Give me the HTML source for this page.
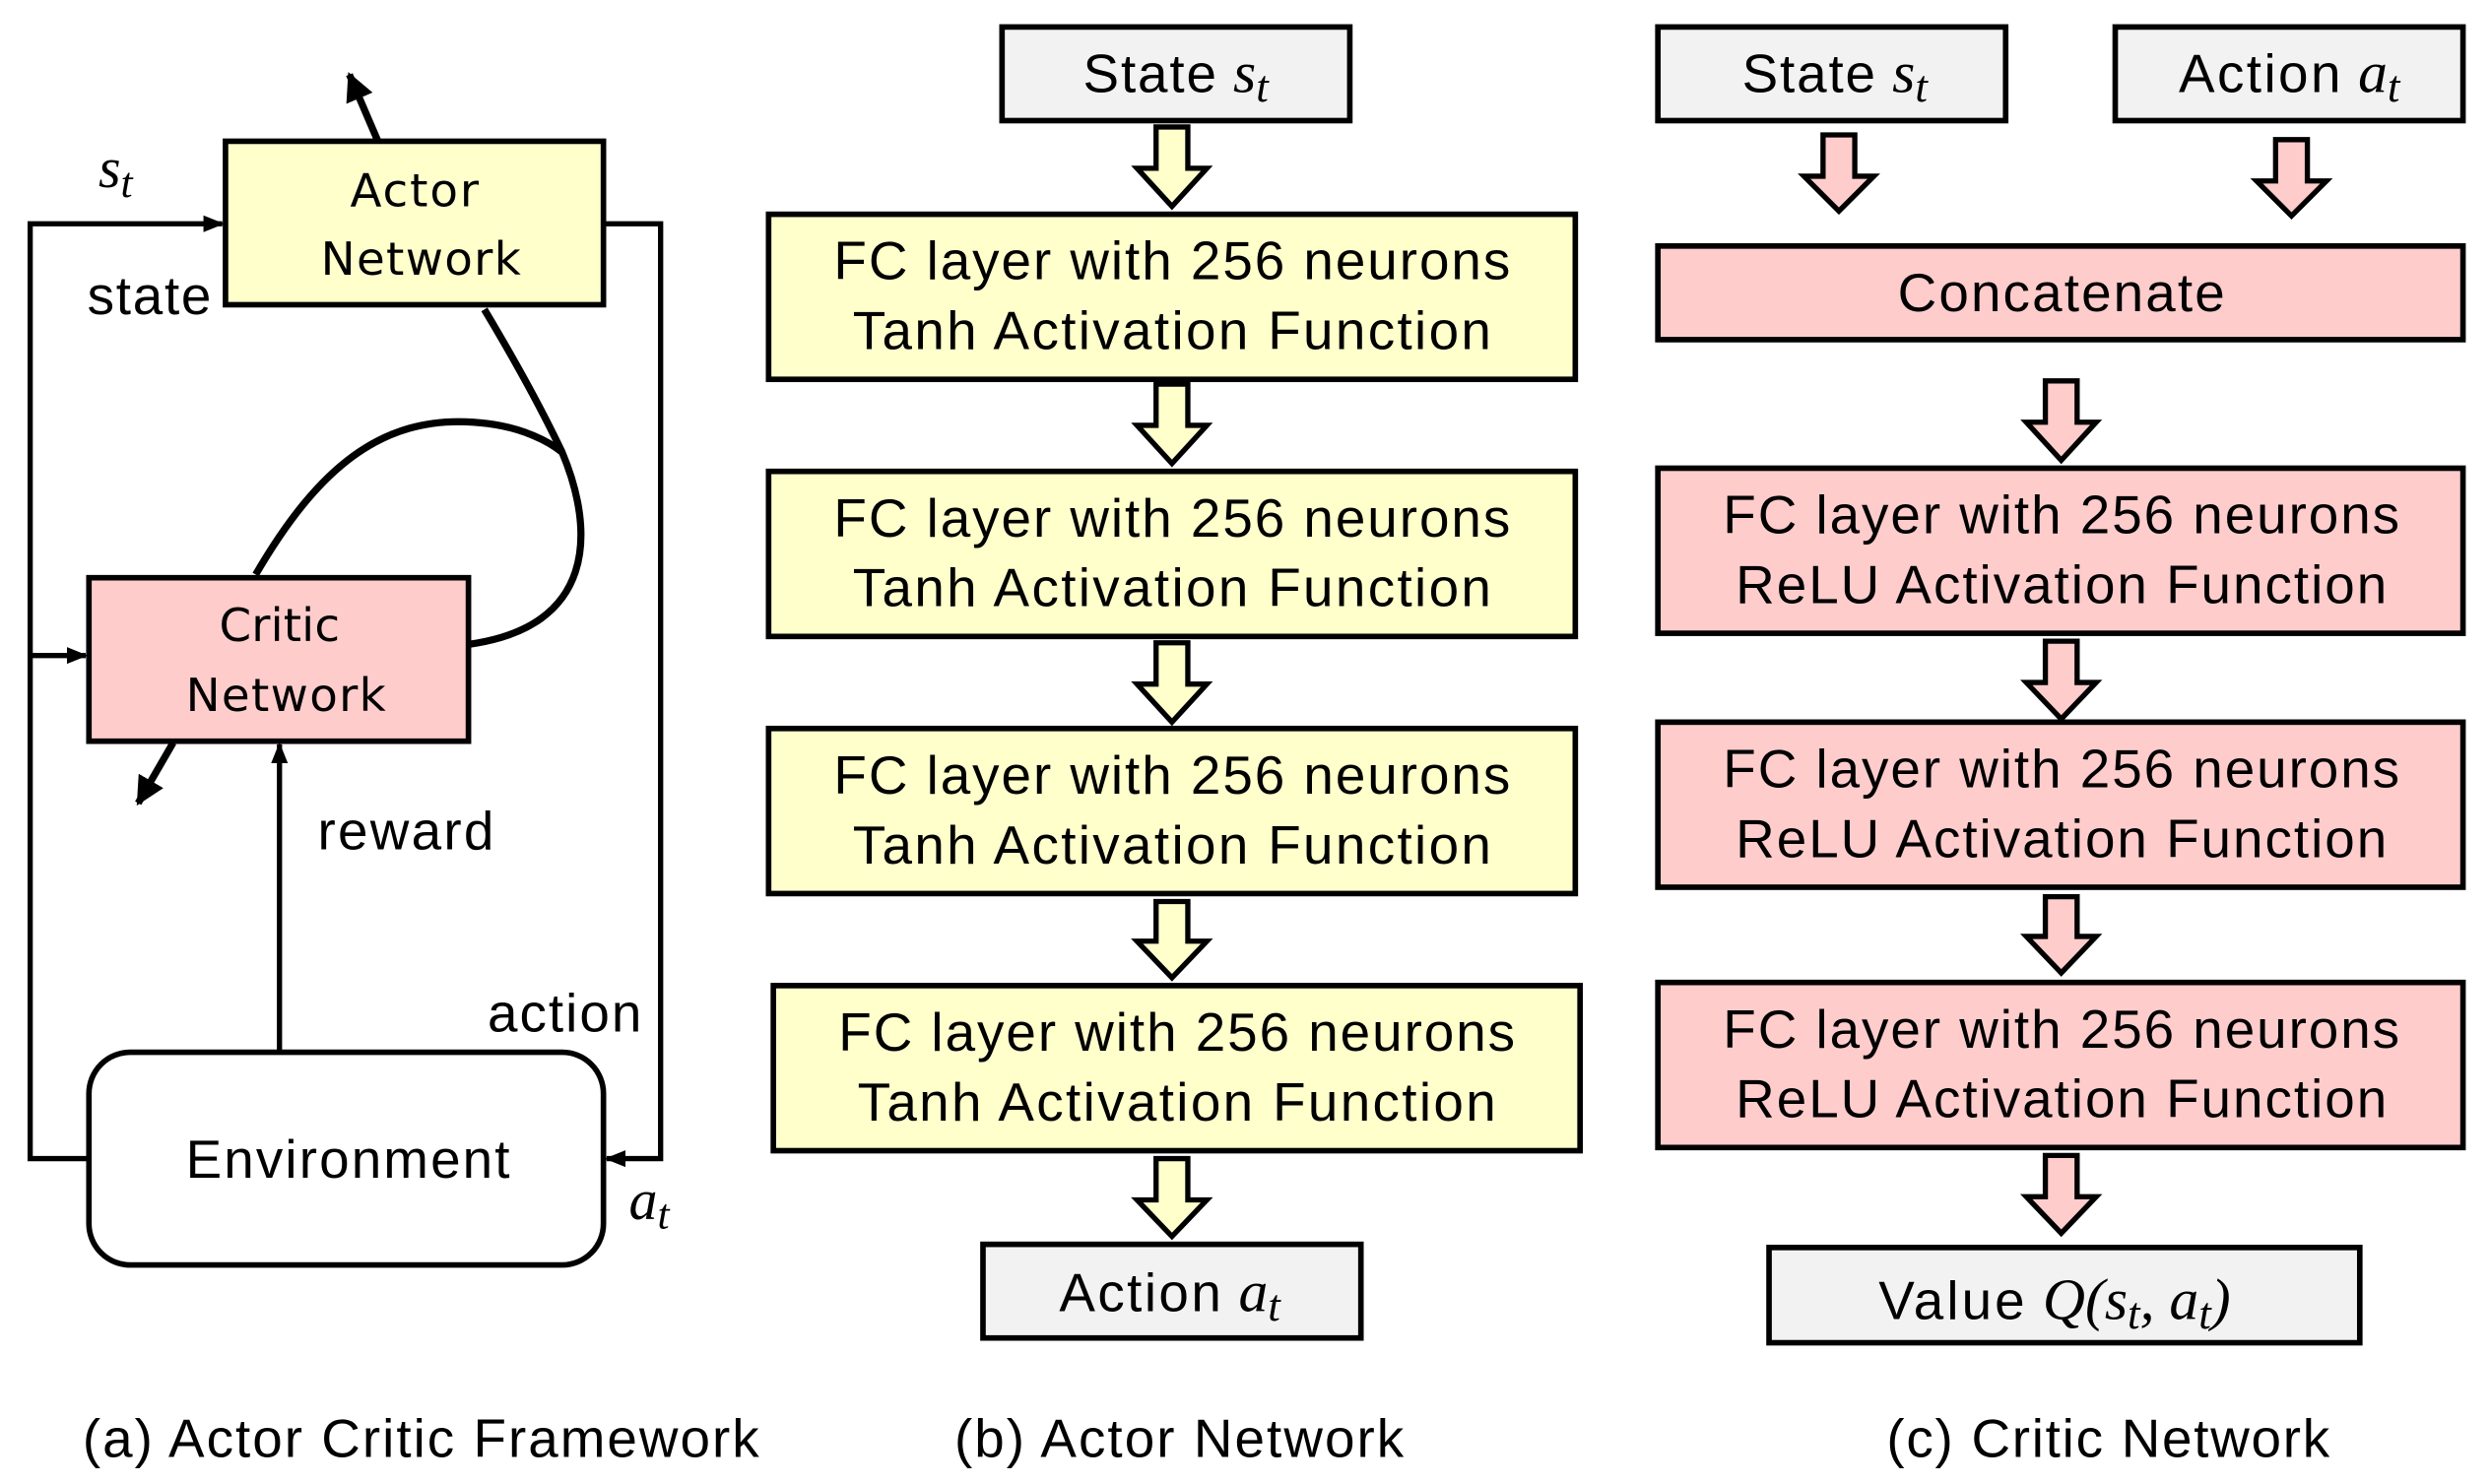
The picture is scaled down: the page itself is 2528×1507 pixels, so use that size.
<!DOCTYPE html>
<html><head><meta charset="utf-8"><style>
html,body{margin:0;padding:0;background:#fff}
svg{display:block}
text{font-family:"Liberation Sans",sans-serif;fill:#000}
.m{font-family:"Liberation Serif",serif;font-style:italic}
.v{font-family:"DejaVu Sans",sans-serif}
</style></head><body>
<svg width="2528" height="1507" viewBox="0 0 1568 935" preserveAspectRatio="none" xmlns="http://www.w3.org/2000/svg">
<defs>
<marker id="ah" viewBox="0 0 10 10" refX="9" refY="5" markerWidth="4" markerHeight="4" orient="auto" markerUnits="strokeWidth"><path d="M0,1 L10,5 L0,9 z" fill="#000"/></marker>
<marker id="ah2" viewBox="0 0 10 10" refX="9" refY="5" markerWidth="4" markerHeight="4" orient="auto" markerUnits="strokeWidth"><path d="M0,0 L10,5 L0,10 z" fill="#000"/></marker>
</defs>
<g stroke="#000" stroke-width="3.3" fill="none">
<polyline points="56,730 19,730 19,141 140,141" marker-end="url(#ah)"/>
<polyline points="19,413 54,413" marker-end="url(#ah)"/>
<polyline points="380,141 416,141 416,730 382,730" marker-end="url(#ah)"/>
<line x1="176" y1="662" x2="176" y2="469" marker-end="url(#ah)"/>
<line x1="238" y1="89" x2="220" y2="47" stroke-width="4.5" marker-end="url(#ah2)"/>
<line x1="109" y1="468" x2="87" y2="506" stroke-width="4.5" marker-end="url(#ah2)"/>
<path d="M305,195 Q335,245 354,285 C375,335 375,395 295,406" stroke-width="4.5"/>
<path d="M161,362 C200,295 240,262 298,266 C330,268 348,280 354,285" stroke-width="4.5"/>
</g>
<rect x="142" y="89" width="238" height="103" fill="#FFFFCC" stroke="#000" stroke-width="3.5"/>
<rect x="56" y="364" width="239" height="103" fill="#FFCCCC" stroke="#000" stroke-width="3.5"/>
<rect x="56" y="663" width="324" height="134" rx="26" fill="#fff" stroke="#000" stroke-width="3.5"/>
<text class="v" x="261" y="130" font-size="29" text-anchor="middle" textLength="81">Actor</text>
<text class="v" x="265" y="173" font-size="29" text-anchor="middle" textLength="126">Network</text>
<text class="v" x="176" y="404" font-size="29" text-anchor="middle" textLength="76">Critic</text>
<text class="v" x="180" y="448" font-size="29" text-anchor="middle" textLength="126">Network</text>
<text x="117" y="742" font-size="34" textLength="204">Environment</text>
<text class="m" x="62" y="118" font-size="36">s<tspan font-size="27" dy="6">t</tspan></text>
<text x="55" y="198" font-size="34" textLength="78">state</text>
<text x="200" y="535" font-size="34" textLength="111">reward</text>
<text x="307" y="650" font-size="34" textLength="97">action</text>
<text class="m" x="396" y="768" font-size="36">a<tspan font-size="27" dy="6">t</tspan></text>

<g stroke="#000" stroke-width="3.5">
<rect x="631" y="17" width="219" height="59" fill="#F2F2F2"/>
<rect x="484" y="135" width="508" height="104" fill="#FFFFCC"/>
<rect x="484" y="297" width="508" height="104" fill="#FFFFCC"/>
<rect x="484" y="459" width="508" height="104" fill="#FFFFCC"/>
<rect x="487" y="621" width="508" height="104" fill="#FFFFCC"/>
<rect x="619" y="784" width="238" height="59" fill="#F2F2F2"/>
</g>
<g stroke="#000" stroke-width="3.3" fill="#FFFFCC">
<path d="M728,80 h20 v26 h12 l-22,24 l-22,-24 h12 z"/>
<path d="M728,242 h20 v26 h12 l-22,24 l-22,-24 h12 z"/>
<path d="M728,405 h20 v26 h12 l-22,24 l-22,-24 h12 z"/>
<path d="M728,568 h20 v25 h12 l-22,23 l-22,-23 h12 z"/>
<path d="M728,730 h20 v26 h12 l-22,23 l-22,-23 h12 z"/>
</g>
<text x="682" y="58" font-size="34"><tspan textLength="84">State</tspan> <tspan class="m" font-size="37">s</tspan><tspan class="m" font-size="28" dy="6">t</tspan></text>
<g font-size="34" text-anchor="middle">
<text x="738" y="176" textLength="426">FC layer with 256 neurons</text>
<text x="738" y="220" textLength="402">Tanh Activation Function</text>
<text x="738" y="338" textLength="426">FC layer with 256 neurons</text>
<text x="738" y="382" textLength="402">Tanh Activation Function</text>
<text x="738" y="500" textLength="426">FC layer with 256 neurons</text>
<text x="738" y="544" textLength="402">Tanh Activation Function</text>
<text x="741" y="662" textLength="426">FC layer with 256 neurons</text>
<text x="741" y="706" textLength="402">Tanh Activation Function</text>
</g>
<text x="667" y="826" font-size="34"><tspan textLength="102">Action</tspan> <tspan class="m" font-size="37">a</tspan><tspan class="m" font-size="28" dy="6">t</tspan></text>

<g stroke="#000" stroke-width="3.5">
<rect x="1044" y="17" width="219" height="59" fill="#F2F2F2"/>
<rect x="1332" y="17" width="219" height="59" fill="#F2F2F2"/>
<rect x="1044" y="155" width="507" height="59" fill="#FFCCCC"/>
<rect x="1044" y="295" width="507" height="104" fill="#FFCCCC"/>
<rect x="1044" y="455" width="507" height="104" fill="#FFCCCC"/>
<rect x="1044" y="619" width="507" height="104" fill="#FFCCCC"/>
<rect x="1114" y="786" width="372" height="60" fill="#F2F2F2"/>
</g>
<g stroke="#000" stroke-width="3.3" fill="#FFCCCC">
<path d="M1148,85 h20 v26 h12 l-22,22 l-22,-22 h12 z"/>
<path d="M1433,88 h20 v26 h12 l-22,22 l-22,-22 h12 z"/>
<path d="M1288,240 h20 v26 h12 l-22,24 l-22,-24 h12 z"/>
<path d="M1288,404 h20 v26 h12 l-22,23 l-22,-23 h12 z"/>
<path d="M1288,565 h20 v25 h12 l-22,23 l-22,-23 h12 z"/>
<path d="M1288,728 h20 v26 h12 l-22,23 l-22,-23 h12 z"/>
</g>
<text x="1097" y="58" font-size="34"><tspan textLength="84">State</tspan> <tspan class="m" font-size="37">s</tspan><tspan class="m" font-size="28" dy="6">t</tspan></text>
<text x="1372" y="58" font-size="34"><tspan textLength="102">Action</tspan> <tspan class="m" font-size="37">a</tspan><tspan class="m" font-size="28" dy="6">t</tspan></text>
<g font-size="34" text-anchor="middle">
<text x="1298" y="196" textLength="206">Concatenate</text>
<text x="1298" y="336" textLength="426">FC layer with 256 neurons</text>
<text x="1298" y="380" textLength="410">ReLU Activation Function</text>
<text x="1298" y="496" textLength="426">FC layer with 256 neurons</text>
<text x="1298" y="540" textLength="410">ReLU Activation Function</text>
<text x="1298" y="660" textLength="426">FC layer with 256 neurons</text>
<text x="1298" y="704" textLength="410">ReLU Activation Function</text>
</g>
<text x="1183" y="831" font-size="34"><tspan textLength="92">Value</tspan> <tspan class="m" font-size="37">Q</tspan><tspan class="m" font-size="37">(s</tspan><tspan class="m" font-size="28" dy="6">t</tspan><tspan class="m" font-size="37" dy="-6">, a</tspan><tspan class="m" font-size="28" dy="6">t</tspan><tspan class="m" font-size="37" dy="-6">)</tspan></text>

<g font-size="34">
<text x="52" y="918" textLength="426">(a) Actor Critic Framework</text>
<text x="601" y="918" textLength="283">(b) Actor Network</text>
<text x="1188" y="918" textLength="279">(c) Critic Network</text>
</g>
</svg>
</body></html>
